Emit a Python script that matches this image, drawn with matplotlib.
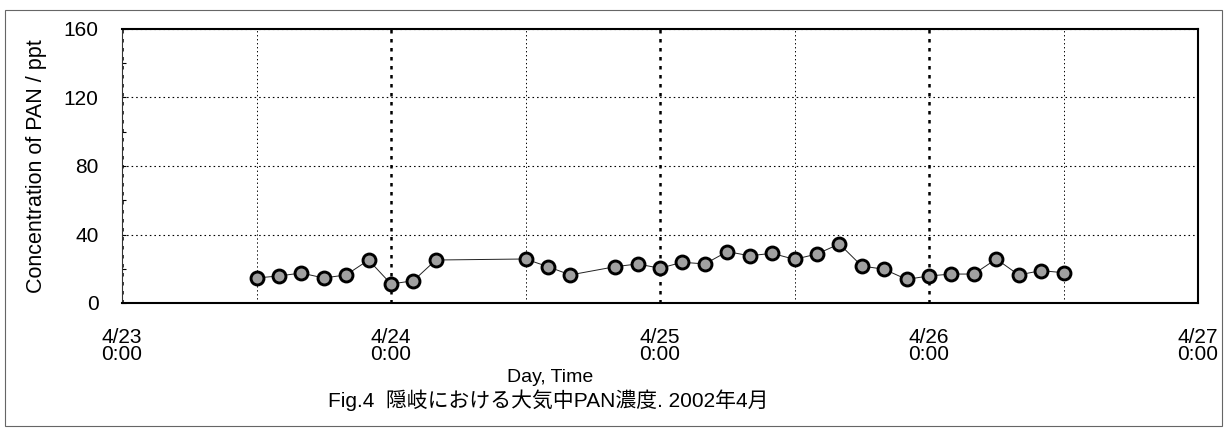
import matplotlib
matplotlib.use("Agg")
import matplotlib.pyplot as plt
import matplotlib.dates as mdates
from matplotlib.ticker import FuncFormatter
from matplotlib.patches import Rectangle
import pandas as pd

plt.rcParams['font.family'] = ['Liberation Sans', 'Noto Sans CJK JP']

# sampling times (2-hourly) and PAN concentration, ppt
times = [
    "2002-04-23 12:00", "2002-04-23 14:00", "2002-04-23 16:00", "2002-04-23 18:00",
    "2002-04-23 20:00", "2002-04-23 22:00",
    "2002-04-24 00:00", "2002-04-24 02:00", "2002-04-24 04:00", "2002-04-24 12:00",
    "2002-04-24 14:00", "2002-04-24 16:00", "2002-04-24 20:00", "2002-04-24 22:00",
    "2002-04-25 00:00", "2002-04-25 02:00", "2002-04-25 04:00", "2002-04-25 06:00",
    "2002-04-25 08:00", "2002-04-25 10:00", "2002-04-25 12:00", "2002-04-25 14:00",
    "2002-04-25 16:00", "2002-04-25 18:00", "2002-04-25 20:00", "2002-04-25 22:00",
    "2002-04-26 00:00", "2002-04-26 02:00", "2002-04-26 04:00", "2002-04-26 06:00",
    "2002-04-26 08:00", "2002-04-26 10:00", "2002-04-26 12:00",
]
pan = [
    14.6, 15.8, 17.5, 14.6, 16.4, 25.1,
    11.1, 13.0, 25.1, 25.7, 21.2, 16.4, 21.2, 22.8,
    20.3, 23.8, 22.8, 30.0, 27.6, 29.0, 25.5, 28.6, 34.5, 21.6, 19.7, 13.8,
    15.8, 16.9, 16.9, 25.7, 16.4, 18.9, 17.7,
]
yticks = [0, 40, 80, 120, 160]

t = pd.to_datetime(times)

fig = plt.figure(figsize=(12.28, 4.29), dpi=100)
ax = fig.add_axes([122/1228, 1 - 303/429, 1076/1228, 274/429])

ax.plot(t, pan, color='#222222', lw=0.7, marker='o', ms=9.3,
        mfc='#a0a0a0', mec='black', mew=2.1, zorder=3)

ax.set_xlim(pd.Timestamp("2002-04-23"), pd.Timestamp("2002-04-27"))
ax.set_ylim(0, 160)
ax.set_yticks(yticks)
ax.set_yticks([20, 60, 100, 140], minor=True)

ax.xaxis.set_major_locator(mdates.DayLocator())
ax.xaxis.set_minor_locator(mdates.HourLocator(byhour=[12]))
ax.xaxis.set_major_formatter(FuncFormatter(
    lambda v, p: "%d/%d\n0:00" % (mdates.num2date(v).month, mdates.num2date(v).day)))

ax.grid(axis='y', which='major', color='black', lw=0.8, ls=(0, (1.4, 2.7)))
ax.grid(axis='x', which='minor', color='black', lw=0.7, ls=(0, (1.4, 2.7)))
ax.grid(axis='x', which='major', color='black', lw=1.8, ls=(0, (1.4, 2.2)))
ax.set_axisbelow(True)

for s in ['top', 'right', 'bottom']:
    ax.spines[s].set_linewidth(1.5)
ax.spines['left'].set_linewidth(0.8)
ax.spines['left'].set_color('#333333')

ax.tick_params(axis='y', which='both', direction='in', length=3, width=0.8,
               pad=17, labelsize=15)
ax.tick_params(axis='x', which='both', length=0, pad=18, labelsize=15)
for lab in ax.get_xticklabels():
    lab.set_linespacing(0.85)

fig.text(37/1228, 1 - 166/429, "Concentration of PAN / ppt", rotation=90,
         ha='center', va='center', fontsize=15.5)
fig.text(550/1228, 1 - 377/429, "Day, Time", ha='center', va='center', fontsize=14)
fig.text(328/1228, 1 - 400/429, "Fig.4  隠岐における大気中PAN濃度. 2002年4月",
         ha='left', va='center', fontsize=15)

fig.patches.append(Rectangle((5/1228, 1 - 426/429), 1217/1228, 416/429,
                             transform=fig.transFigure, fill=False,
                             ec='#666666', lw=0.8))

fig.savefig("out.png", dpi=100)
